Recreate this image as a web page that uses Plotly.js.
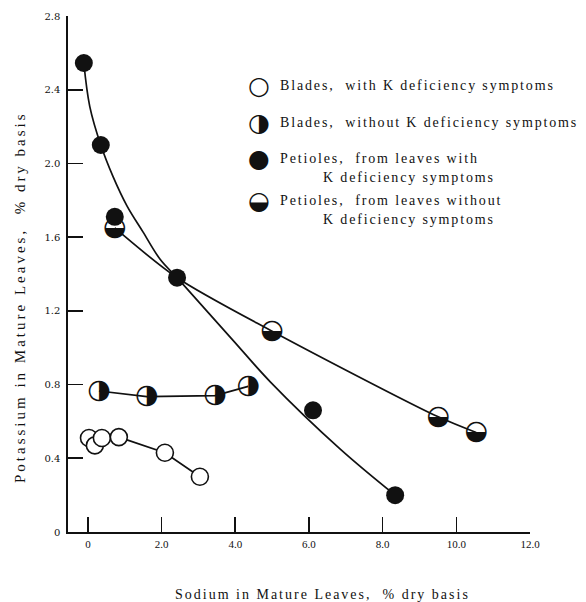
<!DOCTYPE html>
<html>
<head>
<meta charset="utf-8">
<script src="https://cdn.plot.ly/plotly-3.0.1.min.js"></script>
<style>
  html, body { margin: 0; padding: 0; background: #fff; }
  #chart { width: 586px; height: 602px; }
</style>
</head>
<body>
<div id="chart"></div>
<script>
// ---- Data ----
// Blades, with K deficiency symptoms (open circles)
var bladesWithX = [0.03, 0.19, 0.38, 0.84, 2.09, 3.04];
var bladesWithY = [0.51, 0.47, 0.51, 0.515, 0.43, 0.30];
var bladesWithLineStart = 3; // line drawn from the 4th point onward

// Blades, without K deficiency symptoms (right half black)
var bladesWithoutX = [0.30, 1.60, 3.45, 4.35];
var bladesWithoutY = [0.765, 0.735, 0.74, 0.79];

// Petioles, from leaves with K deficiency symptoms (filled)
var petiolesWithX = [-0.11, 0.35, 0.73, 2.42, 6.11, 8.34];
var petiolesWithY = [2.545, 2.10, 1.71, 1.38, 0.66, 0.20];

// Petioles, from leaves without K deficiency symptoms (lower half black)
var petiolesWithoutX = [0.73, 5.00, 9.51, 10.54];
var petiolesWithoutY = [1.65, 1.09, 0.625, 0.54];

// Hand-drawn fitted curves
var curveWithX = [-0.11, 0.05, 0.35, 0.68, 1.06, 1.49, 1.96, 2.42, 3.94, 4.95, 6.85, 8.34];
var curveWithY = [2.545, 2.31, 2.10, 1.93, 1.77, 1.63, 1.48, 1.38, 1.04, 0.815, 0.45, 0.20];
var curveWithoutX = [0.73, 2.42, 5.00, 9.51, 10.54];
var curveWithoutY = [1.65, 1.38, 1.09, 0.625, 0.54];

// Axis ticks
var xTickVals = [0, 2, 4, 6, 8, 10, 12];
var xTickText = ["0", "2.0", "4.0", "6.0", "8.0", "10.0", "12.0"];
var yTickVals = [0, 0.4, 0.8, 1.2, 1.6, 2.0, 2.4, 2.8];
var yTickText = ["0", "0.4", "0.8", "1.2", "1.6", "2.0", "2.4", "2.8"];

var legendLabels = [
  "Blades,  with K deficiency symptoms",
  "Blades,  without K deficiency symptoms",
  "Petioles,  from leaves with",
  "Petioles,  from leaves without"
];
var legendSecondLine = "K deficiency symptoms";
var xTitle = "Sodium in Mature Leaves,  % dry basis";
var yTitle = "Potassium in Mature Leaves,  % dry basis";

// ---- Styling ----
var INK = "#111111";
var SERIF = "'Liberation Serif', 'DejaVu Serif', serif";
var GLYPH = "'DejaVu Sans', sans-serif";
var MSIZE = 17;
var GLYPHSIZE = 27;

function rep(s, n) { var a = []; for (var i = 0; i < n; i++) a.push(s); return a; }

var traces = [
  { x: curveWithX, y: curveWithY, mode: "lines", line: { color: INK, width: 1.7, shape: "spline", smoothing: 1 }, hoverinfo: "skip", showlegend: false },
  { x: curveWithoutX, y: curveWithoutY, mode: "lines", line: { color: INK, width: 1.7, shape: "spline", smoothing: 0.8 }, hoverinfo: "skip", showlegend: false },
  { x: bladesWithoutX, y: bladesWithoutY, mode: "lines", line: { color: INK, width: 1.7 }, hoverinfo: "skip", showlegend: false },
  { x: bladesWithX.slice(bladesWithLineStart), y: bladesWithY.slice(bladesWithLineStart), mode: "lines", line: { color: INK, width: 1.7 }, hoverinfo: "skip", showlegend: false },
  // open circles
  { name: legendLabels[0], x: bladesWithX, y: bladesWithY, mode: "markers",
    marker: { symbol: "circle", size: MSIZE, color: "#ffffff", line: { color: INK, width: 1.6 } }, cliponaxis: false },
  // half-filled: right half black
  { name: legendLabels[1], x: bladesWithoutX, y: bladesWithoutY, mode: "text", text: rep("\u25D1", bladesWithoutX.length),
    textposition: "middle center", textfont: { family: GLYPH, size: GLYPHSIZE, color: INK }, cliponaxis: false },
  // half-filled: lower half black
  { name: legendLabels[3], x: petiolesWithoutX, y: petiolesWithoutY, mode: "text", text: rep("\u25D2", petiolesWithoutX.length),
    textposition: "middle center", textfont: { family: GLYPH, size: GLYPHSIZE, color: INK }, cliponaxis: false },
  // filled circles
  { name: legendLabels[2], x: petiolesWithX, y: petiolesWithY, mode: "markers",
    marker: { symbol: "circle", size: MSIZE + 1, color: INK, line: { color: INK, width: 0 } }, cliponaxis: false }
];

// plot area in pixels: left 68, right 530, top 16, bottom 532
var L = 68, R = 530, T = 16, B = 532;
function px(x) { return (x - L) / (R - L); }
function py(y) { return (B - y) / (B - T); }

function ann(text, x, y, size, family, xanchor, spacing) {
  return {
    xref: "paper", yref: "paper", x: px(x), y: py(y), xanchor: xanchor || "left", yanchor: "middle",
    text: spacing ? '<span style="letter-spacing:' + spacing + 'px">' + text + '</span>' : text,
    showarrow: false, font: { family: family || SERIF, size: size, color: INK }
  };
}

var annotations = [
  ann("\u25CB", 259, 85, 25, GLYPH, "center"),
  ann("\u25D1", 259, 122, 25, GLYPH, "center"),
  ann("\u25CF", 259, 158, 25, GLYPH, "center"),
  ann("\u25D2", 259, 201, 25, GLYPH, "center"),
  ann(legendLabels[0], 278, 85, 14, SERIF, "left", 1.85),
  ann(legendLabels[1], 278, 122, 14, SERIF, "left", 1.85),
  ann(legendLabels[2], 278, 158, 14, SERIF, "left", 1.85),
  ann(legendSecondLine, 321, 177, 14, SERIF, "left", 1.85),
  ann(legendLabels[3], 278, 201, 14, SERIF, "left", 1.85),
  ann(legendSecondLine, 321, 219, 14, SERIF, "left", 1.85),
  ann(xTitle, 322, 594, 14, SERIF, "center", 2)
];
var yt = ann(yTitle, 20, 297, 15, SERIF, "center", 3.0);
yt.textangle = -90;
annotations.push(yt);

var layout = {
  width: 586, height: 602,
  margin: { l: L, r: 586 - R, t: T, b: 602 - B, pad: 0 },
  paper_bgcolor: "#ffffff", plot_bgcolor: "#ffffff",
  showlegend: false,
  xaxis: {
    range: [-0.54, 12.0], showgrid: false, zeroline: false,
    showline: true, linecolor: INK, linewidth: 1.7,
    ticks: "inside", ticklen: 15, tickwidth: 1.6, tickcolor: INK,
    tickvals: xTickVals, ticktext: xTickText, ticklabelstandoff: 1,
    tickfont: { family: SERIF, size: 11, color: INK }, fixedrange: true
  },
  yaxis: {
    range: [0, 2.8], showgrid: false, zeroline: false,
    showline: true, linecolor: INK, linewidth: 1.7,
    ticks: "inside", ticklen: 15, tickwidth: 1.6, tickcolor: INK,
    tickvals: yTickVals, ticktext: yTickText, ticklabelstandoff: 4,
    tickfont: { family: "'DejaVu Serif', serif", size: 10, color: INK }, fixedrange: true
  },
  annotations: annotations
};

Plotly.newPlot("chart", traces, layout, { staticPlot: true, displayModeBar: false });
</script>
</body>
</html>
